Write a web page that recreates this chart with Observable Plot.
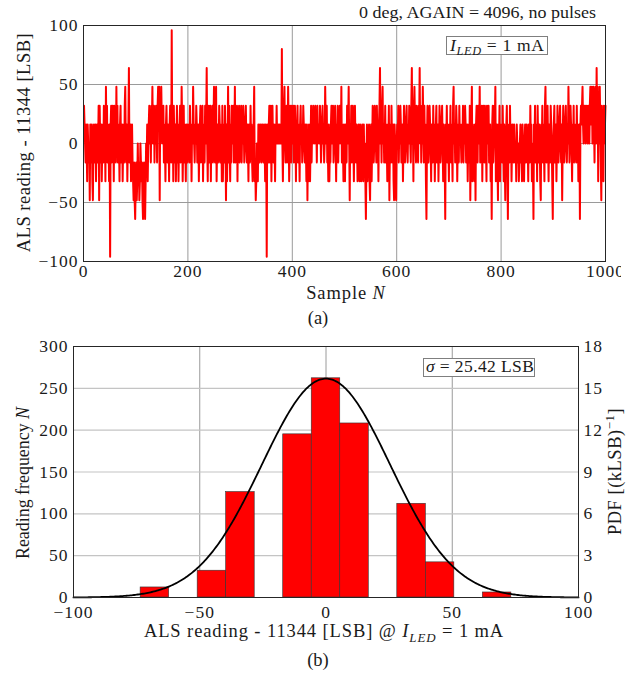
<!DOCTYPE html>
<html><head><meta charset="utf-8">
<script src="https://cdn.jsdelivr.net/npm/d3@7"></script>
<script src="https://cdn.jsdelivr.net/npm/@observablehq/plot@0.6"></script>
<style>
html,body{margin:0;padding:0;background:#fff;}
#wrap{position:relative;width:639px;height:676px;overflow:hidden;background:#fff;}
#top{position:absolute;left:0;top:0;width:639px;height:300px;clip-path:inset(0 18px 0 0);}
#bot{position:absolute;left:0;top:330px;width:639px;}
#ov{position:absolute;left:0;top:0;}
svg text{font-family:"Liberation Serif","Times New Roman",serif;}
</style></head><body>
<div id="wrap"><div id="top"></div><div id="bot"></div></div>
<script>
// ---- Panel (a): ALS reading - 11344 [LSB], samples 1..1000 ----
const alsSeries = [
32,16,0,-16,16,0,-32,16,0,-16,0,-48,16,-16,0,16,-32,-48,0,16,-16,0,16,-32,0,
16,-16,0,32,-48,32,0,-16,16,-32,0,16,-16,32,0,16,-32,48,0,32,-16,16,0,-32,16,
-96,16,32,-16,0,32,16,-32,32,0,16,-16,48,0,32,-16,16,0,-32,16,32,-16,0,16,-32,
0,16,-16,32,48,0,-16,16,-32,0,16,64,-16,0,16,-32,0,16,-16,-32,-48,-16,-48,-64,-32,
-16,-48,-32,0,-32,-16,-48,-32,0,-16,-32,-16,-48,-64,-32,-16,-48,-64,-32,0,-16,16,-32,0,16,
32,0,16,-16,32,16,48,0,16,32,-16,16,0,32,16,-16,32,48,16,48,-48,32,0,48,16,
16,0,32,-16,16,0,-32,16,32,0,-16,16,0,-32,16,32,0,-16,96,0,16,-32,32,0,-16,
16,-32,0,32,-16,16,-32,0,16,32,-16,0,48,16,-32,0,32,-16,16,0,-32,16,0,-16,16,
0,16,-16,32,0,16,-32,16,0,48,16,0,-16,16,0,32,16,-16,0,16,-32,0,16,32,-16,
0,16,32,-32,0,16,-16,32,0,16,64,0,-32,16,32,-16,0,32,-32,16,0,32,-16,16,48,
16,-16,32,48,-32,0,16,-16,0,32,16,-16,0,16,-32,32,-32,0,16,-16,32,0,-48,16,-32,
0,48,-16,32,0,-32,16,-16,32,0,16,32,-16,0,48,-16,16,0,32,-32,16,0,32,-16,16,
0,32,-16,16,0,32,16,-16,0,16,32,0,-16,16,0,-32,16,0,-16,32,0,16,-16,-32,0,
16,48,-32,-16,-48,-32,0,-16,-32,16,0,-16,16,0,16,-16,0,16,0,-16,16,0,-32,16,0,
-96,16,0,-16,16,32,-16,0,32,-32,16,32,0,-16,16,0,-32,16,0,32,0,16,0,16,0,
16,0,16,0,80,0,-32,16,32,48,0,-16,16,32,-16,0,48,16,-32,0,32,16,-16,32,0,
16,32,-16,0,32,16,-32,16,0,32,-16,16,0,-32,16,32,0,16,-16,0,32,16,0,-16,16,
0,-32,16,-48,0,-32,16,-16,-32,0,32,-16,16,0,32,16,0,16,32,0,16,-16,32,0,16,
16,0,32,16,-16,0,16,32,0,16,-16,0,48,16,0,32,-16,0,-32,16,-32,0,-16,16,32,
0,16,32,-16,0,16,32,0,-32,16,0,32,-16,16,0,32,16,0,48,-16,16,0,-32,16,0,
-32,16,0,-16,32,0,16,48,0,-48,16,0,32,-16,16,32,0,-32,16,32,0,-16,16,0,-32,
0,16,-16,-32,16,0,-32,-16,16,0,-32,16,-16,0,-32,-64,-16,16,-32,0,-16,16,-32,-48,0,
16,-32,0,32,16,-16,0,32,16,0,-16,32,0,16,-32,16,32,64,0,16,-16,32,48,0,16,
-16,0,32,-16,16,0,-32,16,0,32,-48,0,16,-16,32,0,-16,16,-32,-48,16,0,-32,-48,0,
16,0,32,-16,16,0,32,16,-16,0,16,-32,0,32,16,-16,0,16,32,0,-16,16,0,32,16,
0,-16,32,64,0,16,-32,32,48,16,0,-16,32,16,0,-16,32,16,64,0,32,-16,16,0,48,
16,-16,32,0,16,-32,-64,0,32,16,-16,0,32,16,0,-32,16,0,-16,32,0,16,-32,0,16,
32,-16,0,16,-32,0,32,16,-16,0,16,32,0,-32,16,0,-16,-64,16,0,32,-16,16,0,-32,
16,0,32,-16,16,0,-32,32,48,0,16,-16,0,32,16,-32,0,16,-16,32,0,16,0,-16,16,
0,32,-16,16,0,32,16,-16,0,16,-32,0,16,-16,32,-48,0,16,48,-32,16,0,-16,-32,16,
-48,16,32,0,-16,32,16,0,48,-16,16,0,32,-32,16,32,0,-16,32,16,0,-32,32,0,16,
32,-16,0,16,-32,0,-64,16,32,-16,0,32,16,48,-32,0,16,-16,-48,16,0,32,-32,16,0,
16,-16,32,0,-32,16,-16,-48,0,16,32,-16,-64,0,16,-16,32,0,16,-32,0,16,0,-16,16,
0,-16,0,-32,16,0,-16,0,-32,-16,0,16,-16,0,-32,16,0,-16,-32,0,16,-16,0,16,-16,
0,-32,16,0,-16,32,0,16,-32,0,-16,-64,16,0,32,-16,0,16,-32,32,0,-16,16,0,-32,
-48,16,0,32,-16,16,0,-32,32,48,0,-16,16,32,0,-32,16,0,-16,32,16,0,-32,-64,0,
16,32,-16,0,16,-32,0,32,16,-16,0,16,32,0,-16,16,-48,0,32,16,-16,0,16,32,0,
-16,16,0,48,16,-16,0,32,16,0,-32,16,0,32,-16,16,0,16,-16,32,0,16,-32,0,16,
-64,16,32,16,32,48,16,0,32,16,32,0,16,32,16,0,32,16,0,32,48,16,32,48,0,
32,48,16,-16,32,48,0,64,16,48,-32,32,0,48,16,-16,-48,32,0,16,-32,32,0,16,32
];
const topXTicks = [0, 200, 400, 600, 800, 1000];
const topYTicks = [-100, -50, 0, 50, 100];

// ---- Panel (b): histogram (17 bins from min to max) and normal PDF ----
const histMin = -96, histMax = 96;
const histCounts = [0, 0, 12, 0, 32, 126, 0, 195, 262, 208, 0, 112, 42, 0, 6, 0, 0];
const sigma = 25.42, mu = 0;
const botXTicks = [-100, -50, 0, 50, 100];
const countTicks = [0, 50, 100, 150, 200, 250, 300];
const pdfTicks = [0, 3, 6, 9, 12, 15, 18];

// derived tables
const nBins = histCounts.length;
const binW = (histMax - histMin) / nBins;
const bars = histCounts.map((c, i) => ({x1: histMin + i * binW, x2: histMin + (i + 1) * binW, count: c})).filter(d => d.count > 0);
const countPerPdf = countTicks[countTicks.length - 1] / pdfTicks[pdfTicks.length - 1];
const gauss = d3.range(-100, 100.001, 0.5).map(x => ({x, y: 1000 * Math.exp(-0.5 * ((x - mu) / sigma) ** 2) / (sigma * Math.sqrt(2 * Math.PI)) * countPerPdf}));

const baseStyle = {fontFamily: '"Liberation Serif","Times New Roman",serif', fontSize: "17.5px", letterSpacing: "1px", color: "#1a1a1a", background: "transparent", overflow: "visible", maxWidth: "none"};
const gridC = "#9a9a9a";

const topPlot = Plot.plot({
  width: 639, height: 300,
  marginLeft: 83, marginRight: 34, marginTop: 25, marginBottom: 39,
  style: baseStyle,
  x: {domain: [0, 1000]},
  y: {domain: [-100, 100]},
  marks: [
    Plot.gridX(topXTicks.slice(1, -1), {stroke: gridC, strokeOpacity: 1}),
    Plot.gridY(topYTicks.slice(1, -1), {stroke: gridC, strokeOpacity: 1}),
    Plot.lineY(alsSeries, {x: (d, i) => i + 1, y: d => d, stroke: "#ff0000", strokeWidth: 2}),
    Plot.frame({stroke: "#262626"}),
    Plot.axisX(topXTicks, {tickSize: 0, tickPadding: 3, label: null, tickFormat: d => String(d)}),
    Plot.axisY(topYTicks, {tickSize: 0, tickPadding: 5, label: null})
  ]
});
document.getElementById("top").appendChild(topPlot);

const botPlot = Plot.plot({
  width: 639, height: 300,
  marginLeft: 73, marginRight: 61, marginTop: 16, marginBottom: 33,
  style: baseStyle,
  x: {domain: [-100, 100]},
  y: {domain: [0, 300]},
  marks: [
    Plot.gridX(botXTicks.slice(1, -1), {stroke: gridC, strokeOpacity: 1}),
    Plot.gridY(countTicks.slice(1, -1), {stroke: "#c4c4c4", strokeOpacity: 1, strokeWidth: 1.2}),
    Plot.rectY(bars, {x1: "x1", x2: "x2", y: "count", fill: "#ff0000", stroke: "#333", strokeWidth: 0.6}),
    Plot.line(gauss, {x: "x", y: "y", stroke: "#000", strokeWidth: 1.8}),
    Plot.frame({stroke: "#262626"}),
    Plot.axisX(botXTicks, {tickSize: 0, tickPadding: 8, label: null}),
    Plot.axisY(countTicks, {anchor: "left", tickSize: 0, tickPadding: 5, label: null}),
    Plot.axisY(countTicks, {anchor: "right", tickSize: 0, tickPadding: 5, label: null, tickFormat: d => String(pdfTicks[countTicks.indexOf(d)])})
  ]
});
document.getElementById("bot").appendChild(botPlot);

// ---- text overlay ----
const ov = d3.select("#wrap").append("svg").attr("id", "ov").attr("width", 639).attr("height", 676);

function addText(parts, o) {
  const size = o.size || 18.5;
  const t = ov.append("text").attr("x", o.x).attr("y", o.y)
    .attr("text-anchor", o.anchor || "middle").attr("fill", "#1a1a1a")
    .style("font-size", size + "px").style("letter-spacing", (o.ls == null ? 0.9 : o.ls) + "px");
  if (o.len) t.attr("textLength", o.len).attr("lengthAdjust", "spacingAndGlyphs");
  if (o.rotate) t.attr("transform", `rotate(-90 ${o.x} ${o.y})`);
  let shift = 0;
  for (const p of parts) {
    const [str, kind] = Array.isArray(p) ? p : [p, ""];
    const s = t.append("tspan").text(str);
    let target = 0;
    if (kind === "i") s.style("font-style", "italic");
    if (kind === "isub") { s.style("font-style", "italic").style("font-size", (size * 0.7) + "px"); target = size * 0.28; }
    if (kind === "sup") { s.style("font-size", (size * 0.7) + "px"); target = -size * 0.4; }
    if (target !== shift) { s.attr("dy", target - shift); shift = target; }
  }
  return t;
}

addText(["0 deg, AGAIN = 4096, no pulses"], {x: 596, y: 17.5, anchor: "end", size: 17.5, ls: 0, len: 237});
addText(["ALS reading - 11344 [LSB]"], {x: 30, y: 142.5, rotate: true, ls: 0.5});
addText(["Sample ", ["N", "i"]], {x: 346, y: 298.5});
addText(["(a)"], {x: 318, y: 324, ls: 0});

ov.append("rect").attr("x", 446.5).attr("y", 36.5).attr("width", 101).attr("height", 18).attr("fill", "#fff").attr("stroke", "#7f7f7f");
addText([["I", "i"], ["LED", "isub"], " = 1 mA"], {x: 450, y: 50.5, anchor: "start", size: 17.5, ls: 0.7});

addText(["Reading frequency ", ["N", "i"]], {x: 29, y: 483, rotate: true, ls: 0, len: 152});
addText(["PDF [(kLSB)", ["−1", "sup"], "]"], {x: 621, y: 471.5, rotate: true, ls: 0.5});
addText(["ALS reading - 11344 [LSB] @ ", ["I", "i"], ["LED", "isub"], " = 1 mA"], {x: 324, y: 637});
addText(["(b)"], {x: 318, y: 666, ls: 0});

ov.append("rect").attr("x", 423.5).attr("y", 358.5).attr("width", 111).attr("height", 18).attr("fill", "#fff").attr("stroke", "#7f7f7f");
addText([["σ", "i"], " = 25.42 LSB"], {x: 426, y: 372, anchor: "start", size: 17.5, ls: 0.4});
</script>
</body></html>
